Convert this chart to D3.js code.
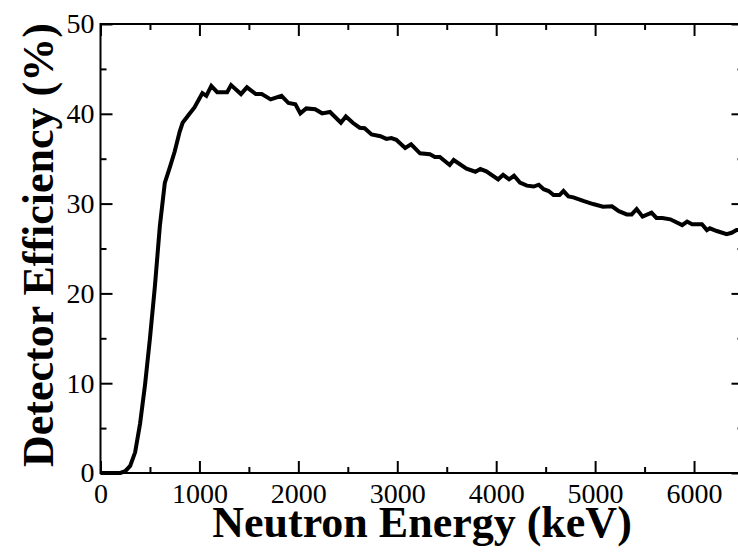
<!DOCTYPE html>
<html>
<head>
<meta charset="utf-8">
<script src="https://cdn.jsdelivr.net/npm/d3@7"></script>
<style>
  body { margin: 0; background: #fff; }
  svg { display: block; overflow: hidden; }
</style>
</head>
<body>
<div id="chart"></div>
<script>
// neutron energy (keV) and detector efficiency (%)
let energy = [0, 100, 200, 250, 300, 350, 400, 450, 500, 550, 600, 650, 700, 750, 800, 830, 900, 950, 1000,
  1030, 1070, 1120, 1180, 1280, 1320, 1420, 1480, 1570, 1630, 1720, 1830, 1900, 1970, 2020, 2080, 2170,
  2240, 2320, 2430, 2480, 2550, 2620, 2670, 2740, 2830, 2890, 2940, 2990, 3080, 3140, 3230, 3330, 3380,
  3430, 3530, 3570, 3700, 3790, 3840, 3900, 4020, 4070, 4130, 4180, 4240, 4310, 4380, 4430, 4480, 4530,
  4580, 4640, 4680, 4730, 4780, 4880, 4980, 5080, 5170, 5240, 5320, 5370, 5420, 5480, 5570, 5620, 5680,
  5760, 5880, 5930, 5980, 6080, 6130, 6160, 6230, 6330, 6380, 6430, 6500];
let efficiency = [0, 0, 0, 0.2, 0.8, 2.3, 5.5, 9.8, 15.0, 20.8, 27.5, 32.3, 34.0, 35.8, 38.0, 39.0, 40.0, 40.7, 41.7,
  42.3, 42.0, 43.1, 42.4, 42.4, 43.2, 42.2, 42.95, 42.2, 42.2, 41.6, 42.0, 41.2, 41.05, 40.05, 40.6, 40.5,
  40.05, 40.2, 39.0, 39.7, 39.0, 38.45, 38.4, 37.7, 37.5, 37.2, 37.3, 37.1, 36.2, 36.6, 35.6, 35.5, 35.2,
  35.2, 34.3, 34.85, 33.9, 33.55, 33.85, 33.6, 32.7, 33.2, 32.7, 33.1, 32.35, 32.0, 31.9, 32.1, 31.6, 31.4,
  30.95, 30.95, 31.4, 30.8, 30.7, 30.3, 29.95, 29.65, 29.7, 29.15, 28.8, 28.8, 29.4, 28.55, 29.0, 28.4, 28.4,
  28.25, 27.6, 28.0, 27.7, 27.7, 27.05, 27.25, 26.95, 26.6, 26.75, 27.05, 27.1];

let xMajor = [0, 1000, 2000, 3000, 4000, 5000, 6000];
let xMinor = [500, 1500, 2500, 3500, 4500, 5500, 6500];
let yMajor = [0, 10, 20, 30, 40, 50];
let yMinor = [5, 15, 25, 35, 45];

let width = 738, height = 552,
    plotLeft = 100.5, plotRight = 743.5, plotTop = 24, plotBottom = 473,
    serif = '"Liberation Serif"';

let svg = d3.select('#chart').append('svg')
    .attr('width', width)
    .attr('height', height);

let x = d3.scaleLinear().domain([0, 6500]).range([plotLeft, plotRight]);
let y = d3.scaleLinear().domain([0, 50]).range([plotBottom, plotTop]);

function addAxis(axisFn, scale, ticks, size, labels, transform) {
    let g = svg.append('g')
        .attr('transform', transform)
        .call(axisFn(scale)
            .tickValues(ticks)
            .tickSizeInner(-size)
            .tickSizeOuter(0)
            .tickPadding(labels ? (axisFn === d3.axisBottom ? 10 : 6) : 0)
            .tickFormat(labels ? d3.format('d') : ''));
    g.select('.domain').remove();
    g.selectAll('.tick line')
        .attr('stroke', '#000')
        .attr('stroke-width', 2);
    g.selectAll('.tick text')
        .style('font-family', serif)
        .style('font-size', '28px')
        .attr('fill', '#000');
    return g;
}

// major ticks with labels, bottom and left
addAxis(d3.axisBottom, x, xMajor, 12, true, `translate(0,${plotBottom})`);
addAxis(d3.axisLeft, y, yMajor, 12, true, `translate(${plotLeft},0)`);
// mirrored ticks, top and right
addAxis(d3.axisTop, x, xMajor, 12, false, `translate(0,${plotTop})`);
addAxis(d3.axisRight, y, yMajor, 12, false, `translate(${plotRight},0)`);
// minor ticks
addAxis(d3.axisBottom, x, xMinor, 6, false, `translate(0,${plotBottom})`);
addAxis(d3.axisTop, x, xMinor, 6, false, `translate(0,${plotTop})`);
addAxis(d3.axisLeft, y, yMinor, 6, false, `translate(${plotLeft},0)`);
addAxis(d3.axisRight, y, yMinor, 6, false, `translate(${plotRight},0)`);

// frame
svg.append('rect')
    .attr('x', plotLeft)
    .attr('y', plotTop)
    .attr('width', plotRight - plotLeft)
    .attr('height', plotBottom - plotTop)
    .attr('fill', 'none')
    .attr('stroke', '#000')
    .attr('stroke-width', 2);

let line = d3.line()
    .x((d, i) => x(energy[i]))
    .y(d => y(d));

svg.append('path')
    .datum(efficiency)
    .attr('d', line)
    .attr('fill', 'none')
    .attr('stroke', '#000')
    .attr('stroke-width', 4)
    .attr('stroke-linejoin', 'miter');

svg.append('text')
    .attr('x', (plotLeft + plotRight) / 2)
    .attr('y', 537)
    .attr('text-anchor', 'middle')
    .style('font-family', serif)
    .style('font-weight', 'bold')
    .style('font-size', '44px')
    .text('Neutron Energy (keV)');

svg.append('text')
    .attr('transform', 'translate(53,245) rotate(-90)')
    .attr('text-anchor', 'middle')
    .style('font-family', serif)
    .style('font-weight', 'bold')
    .style('font-size', '44px')
    .text('Detector Efficiency (%)');
</script>
</body>
</html>
